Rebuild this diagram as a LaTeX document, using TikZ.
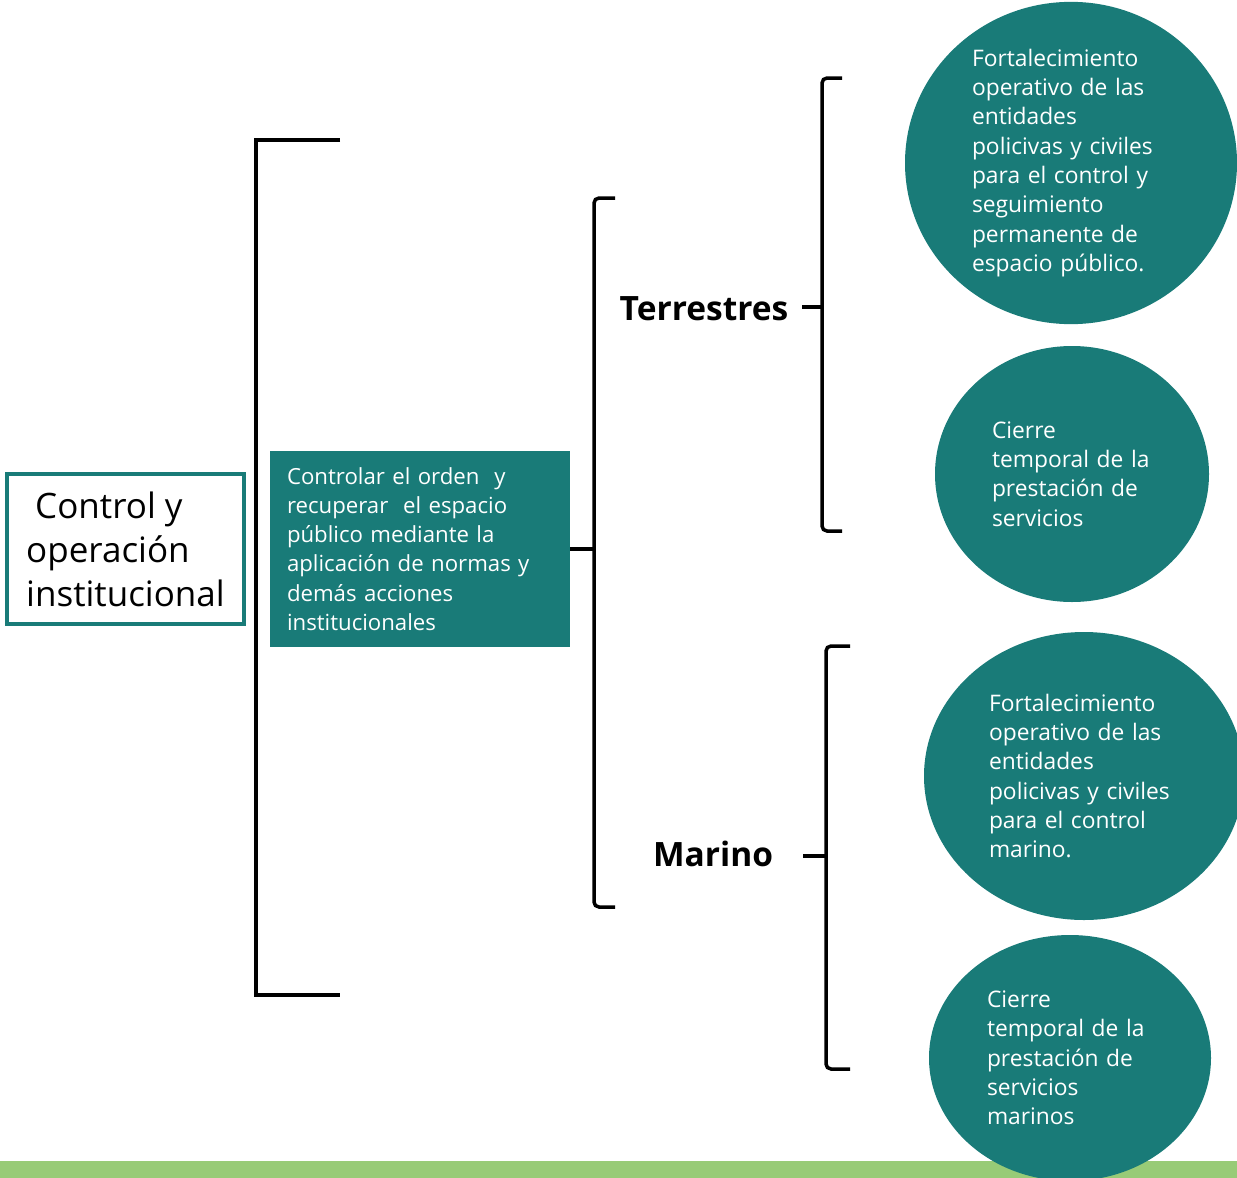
\documentclass[tikz,border=0pt]{standalone}
\usepackage{fontspec}
\setmainfont{Open Sans}
\usetikzlibrary{shapes.geometric}
\definecolor{verdeazul}{RGB}{25,123,120}
\definecolor{barra}{RGB}{152,203,119}
\tikzset{
  llave/.style={line width=3.5pt, rounded corners=5pt},
  circulo/.style={ellipse, fill=verdeazul, text=white, inner sep=0pt, align=left,
    font=\fontsize{22.8}{29.3}\selectfont},
  rotulo/.style={font=\bfseries\fontsize{33.5}{38}\selectfont, inner sep=0pt}
}
\begin{document}
\begin{tikzpicture}[x=1pt,y=-1pt]
        % Marco
        \useasboundingbox (0,0) rectangle (1237,1178);
        \clip (0,0) rectangle (1237,1178);
        % Barra inferior
        \fill[barra] (0,1161) rectangle (1237,1178);

        % Caja de titulo
        \node[draw=verdeazul, line width=3.5pt, minimum width=237pt, minimum height=150pt,
              align=left, inner sep=0pt, font=\fontsize{35}{44}\selectfont] (ctrl) at (125.5,549)
              {\hspace*{9pt}Control y\\operación\\institucional};

        % Llave grande
        \coordinate (g1) at (340,140);
        \coordinate (g2) at (340,995);
        \draw[llave, rounded corners=0pt] (g1) -- (256,140) -- (256,995) -- (g2);

        % Objetivo
        \node[fill=verdeazul, text=white, minimum width=300pt, minimum height=196pt,
              text width=266pt, inner xsep=17pt, align=left,
              font=\fontsize{22.2}{29.3}\selectfont] (obj) at (420,549)
              {Controlar el orden\ \ y\\recuperar\ \ el espacio\\público mediante la\\aplicación de normas y\\demás acciones\\institucionales};

        % Llave del objetivo
        \coordinate (b1) at (615,198);
        \coordinate (b2) at (615,907);
        \draw[llave] (b1) -- (594,198) -- (594,907) -- (b2);
        \draw[llave] (obj.east) -- (594,549);

        % Rotulos
        \node[rotulo] (terr) at (704,309) {Terrestres};
        \node[rotulo] (mar) at (713,854) {Marino};

        % Llave terrestre
        \coordinate (t0) at (802,307);
        \coordinate (t1) at (842,78);
        \coordinate (t2) at (842,531);
        \draw[llave] (t1) -- (822,78) -- (822,531) -- (t2);
        \draw[llave] (t0) -- (822,307);

        % Llave marina
        \coordinate (m0) at (803,856);
        \coordinate (m1) at (850,646);
        \coordinate (m2) at (850,1069);
        \draw[llave] (m1) -- (826,646) -- (826,1069) -- (m2);
        \draw[llave] (m0) -- (826,856);

        % Acciones
        \node[circulo, text width=198pt, minimum width=332pt, minimum height=316pt] (c1) at (1071,163)
              {Fortalecimiento\\operativo de las\\entidades\\policivas y civiles\\para el control y\\seguimiento\\permanente de\\espacio público.};
        \node[circulo, text width=160pt, minimum width=274pt, minimum height=256pt] (c2) at (1072,474)
              {Cierre\\temporal de la\\prestación de\\servicios};
        \node[circulo, text width=190pt, minimum width=320pt, minimum height=288pt] (c3) at (1084,776)
              {Fortalecimiento\\operativo de las\\entidades\\policivas y civiles\\para el control\\marino.};
        \node[circulo, text width=166pt, minimum width=282pt, minimum height=246pt] (c4) at (1070,1058)
              {Cierre\\temporal de la\\prestación de\\servicios\\marinos};
\end{tikzpicture}
\end{document}
